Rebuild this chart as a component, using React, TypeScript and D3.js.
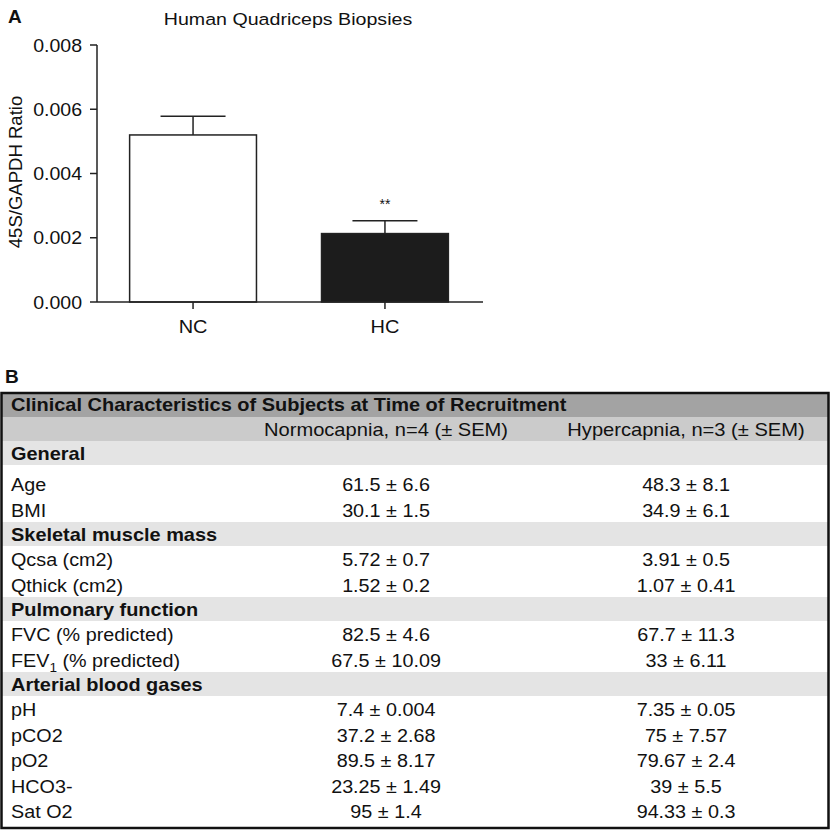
import React from "react";
import * as d3 from "d3";

// panel A data
const groups = ["NC", "HC"];
const means = [0.0052, 0.00213];
const sems = [0.00058, 0.0004];
const barFills = ["#ffffff", "#1c1c1c"];
const sigMarks = ["", "**"];
const yTicks = [0, 0.002, 0.004, 0.006, 0.008];

// panel B data
const tableTitle = "Clinical Characteristics of Subjects at Time of Recruitment";
const colHeaders = ["Normocapnia, n=4 (\u00b1 SEM)", "Hypercapnia, n=3 (\u00b1 SEM)"];
const sections = ["General", "Skeletal muscle mass", "Pulmonary function", "Arterial blood gases"];
const rowLabels = [
  ["Age", "BMI"],
  ["Qcsa (cm2)", "Qthick (cm2)"],
  ["FVC (% predicted)", "FEV1 (% predicted)"],
  ["pH", "pCO2", "pO2", "HCO3-", "Sat O2"],
];
const normoValues = [
  ["61.5 \u00b1 6.6", "30.1 \u00b1 1.5"],
  ["5.72 \u00b1 0.7", "1.52 \u00b1 0.2"],
  ["82.5 \u00b1 4.6", "67.5 \u00b1 10.09"],
  ["7.4 \u00b1 0.004", "37.2 \u00b1 2.68", "89.5 \u00b1 8.17", "23.25 \u00b1 1.49", "95 \u00b1 1.4"],
];
const hyperValues = [
  ["48.3 \u00b1 8.1", "34.9 \u00b1 6.1"],
  ["3.91 \u00b1 0.5", "1.07 \u00b1 0.41"],
  ["67.7 \u00b1 11.3", "33 \u00b1 6.11"],
  ["7.35 \u00b1 0.05", "75 \u00b1 7.57", "79.67 \u00b1 2.4", "39 \u00b1 5.5", "94.33 \u00b1 0.3"],
];

const FONT = "'Liberation Sans', Arial, Helvetica, sans-serif";

function T({ x, y, size, sx = 1, anchor = "start", weight = "normal", dy, children }: any) {
  return (
    <text
      transform={`translate(${x},${y}) scale(${sx},1)`}
      fontSize={size}
      fontWeight={weight}
      textAnchor={anchor}
      dy={dy}
      fill="#111"
    >
      {children}
    </text>
  );
}

function Label({ text }: { text: string }) {
  // FEV1 has a subscript 1
  if (text.startsWith("FEV1")) {
    return (
      <>
        FEV<tspan fontSize="12" dy="5">1</tspan>
        <tspan dy="-5">{text.slice(4)}</tspan>
      </>
    );
  }
  return <>{text}</>;
}

export default function App() {
  const W = 832;
  const H = 830;

  const y = d3.scaleLinear().domain([0, 0.008]).range([302, 45]);
  const x = d3.scaleBand().domain(groups).range([97, 481]).paddingInner(0.339).paddingOuter(0.17);
  const bw = x.bandwidth();
  const capW = 65;

  // table layout
  const tTop = 393;
  const tBottom = 828;
  const hdrH = 24;
  const secH = 24;
  const rowH = 25.5;
  const firstPad = 6;
  const colX = [386, 686];
  const TS = 17.5;
  const TSX = 1.13;

  const secRows: { y: number; name: string }[] = [];
  const dataRows: { base: number; label: string; a: string; b: string }[] = [];
  let cy = tTop + hdrH * 2;
  sections.forEach((s, i) => {
    secRows.push({ y: cy, name: s });
    cy += secH;
    if (i === 0) cy += firstPad;
    rowLabels[i].forEach((lab, j) => {
      dataRows.push({ base: cy + 20, label: lab, a: normoValues[i][j], b: hyperValues[i][j] });
      cy += rowH;
    });
  });

  return (
    <svg
      width={W}
      height={H}
      style={{ position: "absolute", left: 0, top: 0, background: "#fff" }}
      fontFamily={FONT}
    >
      {/* Panel A */}
      <T x={8} y={23} size={19} weight="bold">A</T>
      <T x={288} y={25} size={17.2} sx={1.14} anchor="middle">Human Quadriceps Biopsies</T>

      <g transform="translate(22,172) rotate(-90)">
        <T x={0} y={0} size={17.5} sx={1.06} anchor="middle">45S/GAPDH Ratio</T>
      </g>

      {/* y axis */}
      <line x1={97} x2={97} y1={y(0.008)} y2={y(0)} stroke="#222" strokeWidth={1.5} />
      {yTicks.map((t) => (
        <g key={t}>
          <line x1={90} x2={97} y1={y(t)} y2={y(t)} stroke="#222" strokeWidth={1.5} />
          <T x={82} y={y(t)} size={18.6} sx={1.05} anchor="end" dy="0.36em">
            {d3.format(".3f")(t)}
          </T>
        </g>
      ))}

      {/* bars */}
      {groups.map((g, i) => {
        const cx = (x(g) as number) + bw / 2;
        return (
          <g key={g}>
            <line x1={cx} x2={cx} y1={y(means[i])} y2={y(means[i] + sems[i])} stroke="#222" strokeWidth={1.5} />
            <line x1={cx - capW / 2} x2={cx + capW / 2} y1={y(means[i] + sems[i])} y2={y(means[i] + sems[i])} stroke="#222" strokeWidth={1.5} />
            <rect
              x={x(g)}
              y={y(means[i])}
              width={bw}
              height={y(0) - y(means[i])}
              fill={barFills[i]}
              stroke="#222"
              strokeWidth={1.5}
            />
            <line x1={cx} x2={cx} y1={y(0)} y2={y(0) + 7} stroke="#222" strokeWidth={1.5} />
            <T x={cx} y={333} size={19} sx={1.05} anchor="middle">{g}</T>
            {sigMarks[i] && (
              <T x={cx} y={209} size={14} anchor="middle">{sigMarks[i]}</T>
            )}
          </g>
        );
      })}
      {/* x axis */}
      <line x1={97} x2={483} y1={y(0)} y2={y(0)} stroke="#222" strokeWidth={1.5} />

      {/* Panel B */}
      <T x={5} y={383} size={19} weight="bold">B</T>

      <rect x={2} y={tTop} width={826} height={hdrH} fill="#a3a3a3" />
      <rect x={2} y={tTop + hdrH} width={826} height={hdrH} fill="#cbcbcb" />
      {secRows.map((s) => (
        <rect key={s.name} x={2} y={s.y} width={826} height={secH} fill="#e4e4e4" />
      ))}

      <T x={11} y={tTop + 18} size={18} sx={1.11} weight="bold">{tableTitle}</T>
      {colHeaders.map((h, i) => (
        <T key={h} x={colX[i]} y={tTop + hdrH + 19} size={TS} sx={1.15} anchor="middle">{h}</T>
      ))}
      {secRows.map((s) => (
        <T key={s.name} x={11} y={s.y + 19} size={TS} sx={1.14} weight="bold">{s.name}</T>
      ))}
      {dataRows.map((r) => (
        <g key={r.label}>
          <T x={11} y={r.base} size={TS} sx={TSX}><Label text={r.label} /></T>
          <T x={colX[0]} y={r.base} size={TS} sx={TSX} anchor="middle">{r.a}</T>
          <T x={colX[1]} y={r.base} size={TS} sx={TSX} anchor="middle">{r.b}</T>
        </g>
      ))}

      <rect x={1.5} y={tTop} width={827} height={tBottom - tTop} fill="none" stroke="#111" strokeWidth={2.5} />
    </svg>
  );
}
